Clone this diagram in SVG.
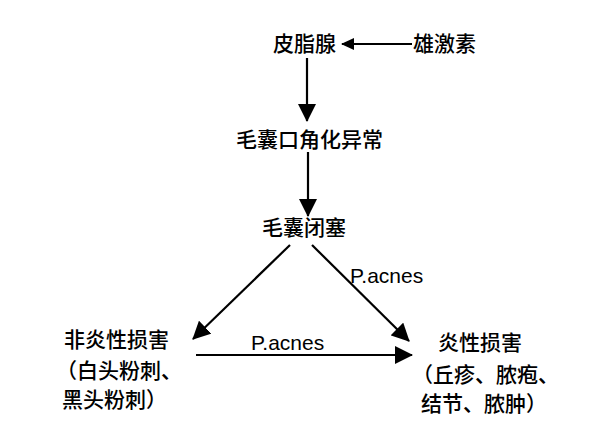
<svg xmlns="http://www.w3.org/2000/svg" width="615" height="435" viewBox="0 0 615 435">
<style>
text{font-family:"Noto Sans CJK SC","Noto Sans",sans-serif;font-size:21px;font-weight:500;fill:#000}
.lat{font-family:"Liberation Sans","Noto Sans",sans-serif;font-size:21px;font-weight:400}
.c line{stroke:#000;stroke-width:2.2}
</style>
<defs>
<marker id="a" viewBox="0 0 18 18" refX="17" refY="9" markerWidth="18" markerHeight="18" markerUnits="userSpaceOnUse" orient="auto">
<path d="M0,0 L18,9 L0,18 z" fill="#000"/>
</marker>
<marker id="s" viewBox="0 0 13 12" refX="12" refY="6" markerWidth="13" markerHeight="12" markerUnits="userSpaceOnUse" orient="auto">
<path d="M0,0 L13,6 L0,12 z" fill="#000"/>
</marker>
</defs>
<rect width="615" height="435" fill="#fff"/>
<g class="c">
<line x1="412" y1="44" x2="342" y2="44" marker-end="url(#s)"/>
<line x1="307" y1="58" x2="307" y2="121" marker-end="url(#a)"/>
<line x1="308" y1="152" x2="308" y2="216" marker-end="url(#a)"/>
<line x1="290" y1="245" x2="193" y2="339" marker-end="url(#a)"/>
<line x1="312" y1="245" x2="409" y2="341" marker-end="url(#a)"/>
<line x1="196" y1="355" x2="412" y2="355" marker-end="url(#a)"/>
<text class="lat" x="350" y="283">P.acnes</text>
<text class="lat" x="251" y="350">P.acnes</text>
</g>
<g id="n1"><text x="273" y="51">皮脂腺</text></g>
<g id="n2"><text x="413" y="51">雄激素</text></g>
<g id="n3"><text x="236" y="147">毛囊口角化异常</text></g>
<g id="n4"><text x="262" y="235">毛囊闭塞</text></g>
<g id="n5"><text x="64" y="347">非炎性损害</text><text x="56" y="378">（白头粉刺、</text><text x="62" y="407">黑头粉刺）</text></g>
<g id="n6"><text x="438" y="350">炎性损害</text><text x="412" y="382">（丘疹、脓疱、</text><text x="421" y="411">结节、脓肿）</text></g>
</svg>
